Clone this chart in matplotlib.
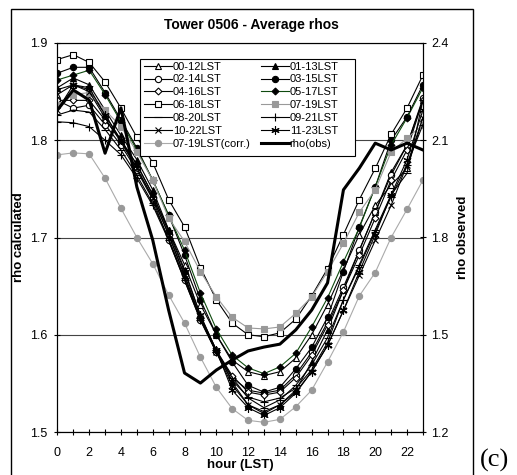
import numpy as np
import matplotlib.pyplot as plt
from matplotlib.patches import Rectangle

plt.rcParams['font.family'] = ['Liberation Sans', 'DejaVu Sans']

hours = list(range(24))

# rho calculated, one list per 12-hour pair
r_0012 = [1.847, 1.857, 1.852, 1.826, 1.800, 1.775, 1.744, 1.708, 1.672, 1.631, 1.600, 1.574,
          1.562, 1.558, 1.562, 1.576, 1.600, 1.631, 1.667, 1.703, 1.733, 1.754, 1.771, 1.822]
r_0113 = [1.854, 1.864, 1.857, 1.831, 1.805, 1.780, 1.749, 1.708, 1.667, 1.620, 1.584, 1.551,
          1.528, 1.521, 1.528, 1.543, 1.572, 1.605, 1.646, 1.687, 1.726, 1.767, 1.795, 1.841]
r_0214 = [1.841, 1.833, 1.836, 1.816, 1.795, 1.769, 1.739, 1.697, 1.656, 1.615, 1.582, 1.556,
          1.543, 1.540, 1.543, 1.559, 1.582, 1.613, 1.649, 1.687, 1.726, 1.764, 1.795, 1.843]
r_0315 = [1.869, 1.875, 1.875, 1.849, 1.821, 1.792, 1.759, 1.723, 1.682, 1.636, 1.600, 1.572,
          1.548, 1.541, 1.546, 1.565, 1.587, 1.618, 1.665, 1.711, 1.752, 1.800, 1.824, 1.857]
r_0416 = [1.841, 1.841, 1.841, 1.821, 1.800, 1.771, 1.741, 1.703, 1.661, 1.617, 1.584, 1.558,
          1.541, 1.538, 1.541, 1.556, 1.579, 1.610, 1.646, 1.682, 1.720, 1.759, 1.790, 1.841]
r_0517 = [1.862, 1.867, 1.872, 1.847, 1.819, 1.790, 1.759, 1.723, 1.687, 1.643, 1.606, 1.579,
          1.566, 1.560, 1.567, 1.581, 1.608, 1.638, 1.675, 1.710, 1.752, 1.795, 1.823, 1.854]
r_0618 = [1.883, 1.888, 1.880, 1.860, 1.833, 1.803, 1.777, 1.739, 1.711, 1.669, 1.636, 1.612,
          1.600, 1.598, 1.602, 1.616, 1.640, 1.668, 1.703, 1.739, 1.771, 1.806, 1.833, 1.867]
r_0719 = [1.836, 1.847, 1.849, 1.831, 1.814, 1.788, 1.759, 1.720, 1.696, 1.665, 1.639, 1.618,
          1.607, 1.606, 1.608, 1.622, 1.639, 1.665, 1.694, 1.726, 1.749, 1.788, 1.802, 1.816]
r_0820 = [1.826, 1.831, 1.829, 1.811, 1.790, 1.764, 1.735, 1.699, 1.658, 1.617, 1.584, 1.556,
          1.535, 1.525, 1.533, 1.548, 1.569, 1.597, 1.636, 1.672, 1.708, 1.744, 1.766, 1.841]
r_0921 = [1.819, 1.818, 1.814, 1.800, 1.785, 1.761, 1.733, 1.697, 1.656, 1.615, 1.582, 1.553,
          1.536, 1.531, 1.535, 1.545, 1.564, 1.592, 1.636, 1.670, 1.706, 1.742, 1.775, 1.816]
r_1022 = [1.831, 1.857, 1.850, 1.823, 1.798, 1.771, 1.741, 1.703, 1.661, 1.617, 1.582, 1.548,
          1.528, 1.519, 1.528, 1.541, 1.562, 1.589, 1.625, 1.661, 1.697, 1.733, 1.775, 1.823]
r_1123 = [1.852, 1.857, 1.854, 1.826, 1.800, 1.775, 1.744, 1.706, 1.665, 1.620, 1.584, 1.543,
          1.525, 1.517, 1.525, 1.540, 1.562, 1.589, 1.625, 1.665, 1.703, 1.744, 1.780, 1.831]
r_0719_corr = [1.785, 1.787, 1.786, 1.761, 1.730, 1.700, 1.673, 1.641, 1.612, 1.577, 1.546, 1.524,
               1.512, 1.510, 1.513, 1.526, 1.543, 1.572, 1.603, 1.640, 1.664, 1.700, 1.729, 1.759]

# rho observed (right axis)
rho_obs = [2.193, 2.255, 2.224, 2.060, 2.200, 1.956, 1.792, 1.576, 1.382, 1.351, 1.391, 1.422,
           1.450, 1.462, 1.471, 1.515, 1.576, 1.660, 1.947, 2.014, 2.091, 2.070, 2.091, 2.070]

fig = plt.figure(figsize=(5.17, 4.75), dpi=100)
ax = fig.add_axes([0.111, 0.0905, 0.707, 0.819])

ms = 4.5
lw = 0.8
series = [
    ('00-12LST', r_0012, dict(color='black', marker='^', mfc='white')),
    ('01-13LST', r_0113, dict(color='black', marker='^', mfc='black')),
    ('02-14LST', r_0214, dict(color='black', marker='o', mfc='white')),
    ('03-15LST', r_0315, dict(color='black', marker='o', mfc='black')),
    ('04-16LST', r_0416, dict(color='black', marker='D', mfc='white', ms=3.5)),
    ('05-17LST', r_0517, dict(color='#0f4a0f', marker='D', mfc='black', mec='black', ms=3.5)),
    ('06-18LST', r_0618, dict(color='black', marker='s', mfc='white')),
    ('07-19LST', r_0719, dict(color='#999999', marker='s', mfc='#999999', mec='#999999')),
    ('08-20LST', r_0820, dict(color='black', marker='_', ms=6)),
    ('09-21LST', r_0921, dict(color='black', marker='+', ms=6)),
    ('10-22LST', r_1022, dict(color='black', marker='x', ms=5)),
    ('11-23LST', r_1123, dict(color='black', marker=(6, 2, 0), ms=6)),
    ('07-19LST(corr.)', r_0719_corr, dict(color='#aaaaaa', marker='o', mfc='#999999', mec='#999999')),
]

handles = []
for name, vals, st in series:
    st = dict(st)
    st.setdefault('ms', ms)
    h, = ax.plot(hours, vals, lw=lw, label=name, mew=0.8, **st)
    handles.append(h)

ax.set_xlim(0, 23)
ax.set_ylim(1.5, 1.9)
ax.set_xticks(range(0, 24, 2))
ax.set_xticks(range(0, 24), minor=True)
ax.set_yticks([1.5, 1.6, 1.7, 1.8, 1.9])
ax.yaxis.grid(True, color='#444444', lw=0.8)
ax.set_axisbelow(True)
ax.tick_params(axis='both', which='both', direction='inout', length=5, labelsize=9, width=0.8)
ax.tick_params(axis='x', which='both', pad=8)
ax.tick_params(axis='x', which='minor', length=4)
ax.tick_params(axis='y', pad=5)
ax.set_xlabel('hour (LST)', fontsize=9.5, fontweight='bold', labelpad=0)
ax.set_ylabel('rho calculated', fontsize=9.5, fontweight='bold', labelpad=3)
for s in ax.spines.values():
    s.set_linewidth(0.8)
ax.spines['top'].set_color('#444444')

ax2 = ax.twinx()
h_obs, = ax2.plot(hours, rho_obs, color='black', lw=2.2, label='rho(obs)')
handles.append(h_obs)
ax2.set_ylim(1.2, 2.4)
ax2.set_yticks([1.2, 1.5, 1.8, 2.1, 2.4])
ax2.tick_params(axis='y', direction='inout', length=5, labelsize=9, width=0.8)
ax2.set_ylabel('rho observed', fontsize=9.5, fontweight='bold', labelpad=6)
for s in ax2.spines.values():
    s.set_linewidth(0.8)

# legend: rows go 00-12 | 01-13, 02-14 | 03-15 ... (matplotlib fills by column)
order = handles[0::2] + handles[1::2]
ax2.add_patch(Rectangle((0.2257, 0.7095), 0.588, 0.2494, transform=ax2.transAxes,
                        facecolor='white', edgecolor='black', lw=0.8, zorder=4))
leg = ax2.legend(handles=order, ncol=2, loc='upper left', bbox_to_anchor=(0.231, 0.958),
                 borderaxespad=0, fontsize=8, handlelength=2.5, labelspacing=0.26,
                 columnspacing=0.9, handletextpad=0.1, borderpad=0.2, frameon=False)
leg.set_zorder(5)

fig.text(0.487, 0.947, 'Tower 0506 - Average rhos', ha='center', va='center',
         fontsize=10, fontweight='bold')

fig.add_artist(Rectangle((0.0213, -0.01), 0.894, 0.991, fill=False, lw=1,
                         edgecolor='black', transform=fig.transFigure))
fig.text(0.928, 0.006, '(c)', fontsize=19, family='Liberation Serif', va='bottom', ha='left')

fig.savefig('out.png', dpi=100)
